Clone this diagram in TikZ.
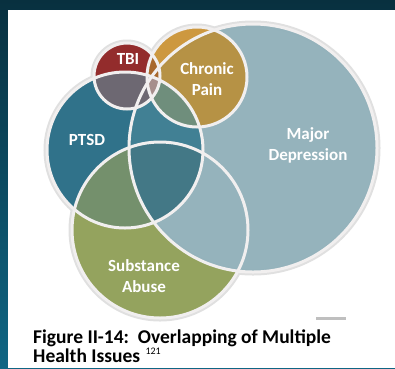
\documentclass[tikz,border=0pt]{standalone}
\usepackage{fontspec}
\setmainfont{Carlito}
\definecolor{frametop}{HTML}{08303F}
\definecolor{framebot}{HTML}{0F6684}
\definecolor{ringwhite}{HTML}{F1EFEF}
\definecolor{mdin}{HTML}{95B3BC}
\definecolor{mdout}{HTML}{668895}
\definecolor{subin}{HTML}{94A35E}
\definecolor{subout}{HTML}{667436}
\definecolor{ptin}{HTML}{30728A}
\definecolor{ptout}{HTML}{1B4F62}
\definecolor{tbiin}{HTML}{932C2C}
\definecolor{tbiout}{HTML}{6A1C1C}
\definecolor{chin}{HTML}{CD983F}
\definecolor{chout}{HTML}{A47628}
\definecolor{ochin}{HTML}{B69245}
\definecolor{ochout}{HTML}{907030}
\definecolor{ptmdin}{HTML}{418094}
\definecolor{ptmdout}{HTML}{2A6072}
\definecolor{ptsubin}{HTML}{74906C}
\definecolor{ptsubout}{HTML}{566F52}
\definecolor{allin}{HTML}{437886}
\definecolor{allout}{HTML}{2C5C6A}
\definecolor{tbiptin}{HTML}{6D6872}
\definecolor{tbiptout}{HTML}{56505C}
\definecolor{chptin}{HTML}{6F8E7C}
\definecolor{chptout}{HTML}{53705D}
\definecolor{chtbi}{HTML}{A8682C}
\definecolor{chtbipt}{HTML}{A68E8C}
\colorlet{rimin}{white}
\colorlet{rimout}{black}
\pgfdeclareradialshading[rimin,rimout]{rimshade}{\pgfpoint{0bp}{0bp}}%
    {color(0bp)=(rimin); color(24bp)=(rimin); color(50bp)=(rimout)}
\newcommand\rMD{124pt}
\newcommand\rPT{78pt}
\newcommand\rSA{88pt}
\newcommand\rTB{33pt}
\newcommand\rCP{50pt}
% shaded disc: inner colour, outer colour, centre, radius
\newcommand\shadedisc[4]{%
    \colorlet{rimin}{#1}\colorlet{rimout}{#2}%
    \shade[shading=rimshade] (#3) circle (#4);}
\begin{document}
\begin{tikzpicture}[x=1pt,y=-1pt,
    rim/.style={line width=3pt,draw=ringwhite},
    halo/.style={line width=7pt,draw=black!12},
    lbl/.style={text=white,font=\bfseries\fontsize{17}{21}\selectfont,align=center,inner sep=0pt},
    capt/.style={font=\bfseries\fontsize{19.5}{23}\selectfont,anchor=base west,inner sep=0pt}]
    % frame
    \shade[top color=frametop,bottom color=framebot] (0,0) rectangle (395,368);
    \fill[white] (8,10) rectangle (395,368);
    \useasboundingbox (0,0) rectangle (395,368);

    % centres
    \coordinate (md) at (253,148);
    \coordinate (pt) at (125,150);
    \coordinate (sa) at (160,230);
    \coordinate (tb) at (127,76);
    \coordinate (cp) at (197,77);

    % soft edge
    \draw[halo] (md) circle (\rMD);
    \draw[halo] (pt) circle (\rPT);
    \draw[halo] (sa) circle (\rSA);
    \draw[halo] (tb) circle (\rTB);
    \draw[halo] (cp) circle (\rCP);

    % base fills
    \shadedisc{subin}{subout}{sa}{\rSA}
    \shadedisc{mdin}{mdout}{md}{\rMD}
    \shadedisc{ptin}{ptout}{pt}{\rPT}

    % overlaps with PTSD
    \begin{scope}
        \clip (pt) circle (\rPT);
        \shadedisc{ptmdin}{ptmdout}{md}{\rMD}
        \shadedisc{ptsubin}{ptsubout}{sa}{\rSA}
        \begin{scope}
            \clip (md) circle (\rMD);
            \shadedisc{allin}{allout}{sa}{\rSA}
        \end{scope}
    \end{scope}

    % TBI
    \shadedisc{tbiin}{tbiout}{tb}{\rTB}
    \begin{scope}
        \clip (tb) circle (\rTB);
        \shadedisc{tbiptin}{tbiptout}{pt}{\rPT}
    \end{scope}

    % chronic pain
    \shadedisc{chin}{chout}{cp}{\rCP}
    \begin{scope}
        \clip (cp) circle (\rCP);
        \shadedisc{ochin}{ochout}{md}{\rMD}
        \shadedisc{chptin}{chptout}{pt}{\rPT}
        \fill[chtbi] (tb) circle (\rTB);
        \begin{scope}
            \clip (tb) circle (\rTB);
            \fill[chtbipt] (pt) circle (\rPT);
        \end{scope}
    \end{scope}

    % white rings
    \draw[rim] (md) circle (\rMD);
    \draw[rim] (sa) circle (\rSA);
    \draw[rim] (pt) circle (\rPT);
    \draw[rim] (tb) circle (\rTB);
    \draw[rim] (cp) circle (\rCP);

    % labels
    \node[lbl] (mdlabel) at (308,145) {Major\\Depression};
    \node[lbl] (ptlabel) at (87,140) {PTSD};
    \node[lbl] (tblabel) at (128,59) {TBI};
    \node[lbl] (cplabel) at (207,79) {Chronic\\Pain};
    \node[lbl] (salabel) at (144,276) {Substance\\Abuse};

    % caption
    \fill[black!25] (316,317) rectangle (346,319.5);
    \node[capt] (cap1) at (33,343) {Figure II-14:\ \ Overlapping of Multiple};
    \node[capt] (cap2) at (33,362) {Health Issues};
    \node[font=\fontsize{10}{12}\selectfont,anchor=base west,inner sep=0pt]
        (capnum) at ([xshift=5pt,yshift=8pt]cap2.base east) {121};
\end{tikzpicture}
\end{document}
